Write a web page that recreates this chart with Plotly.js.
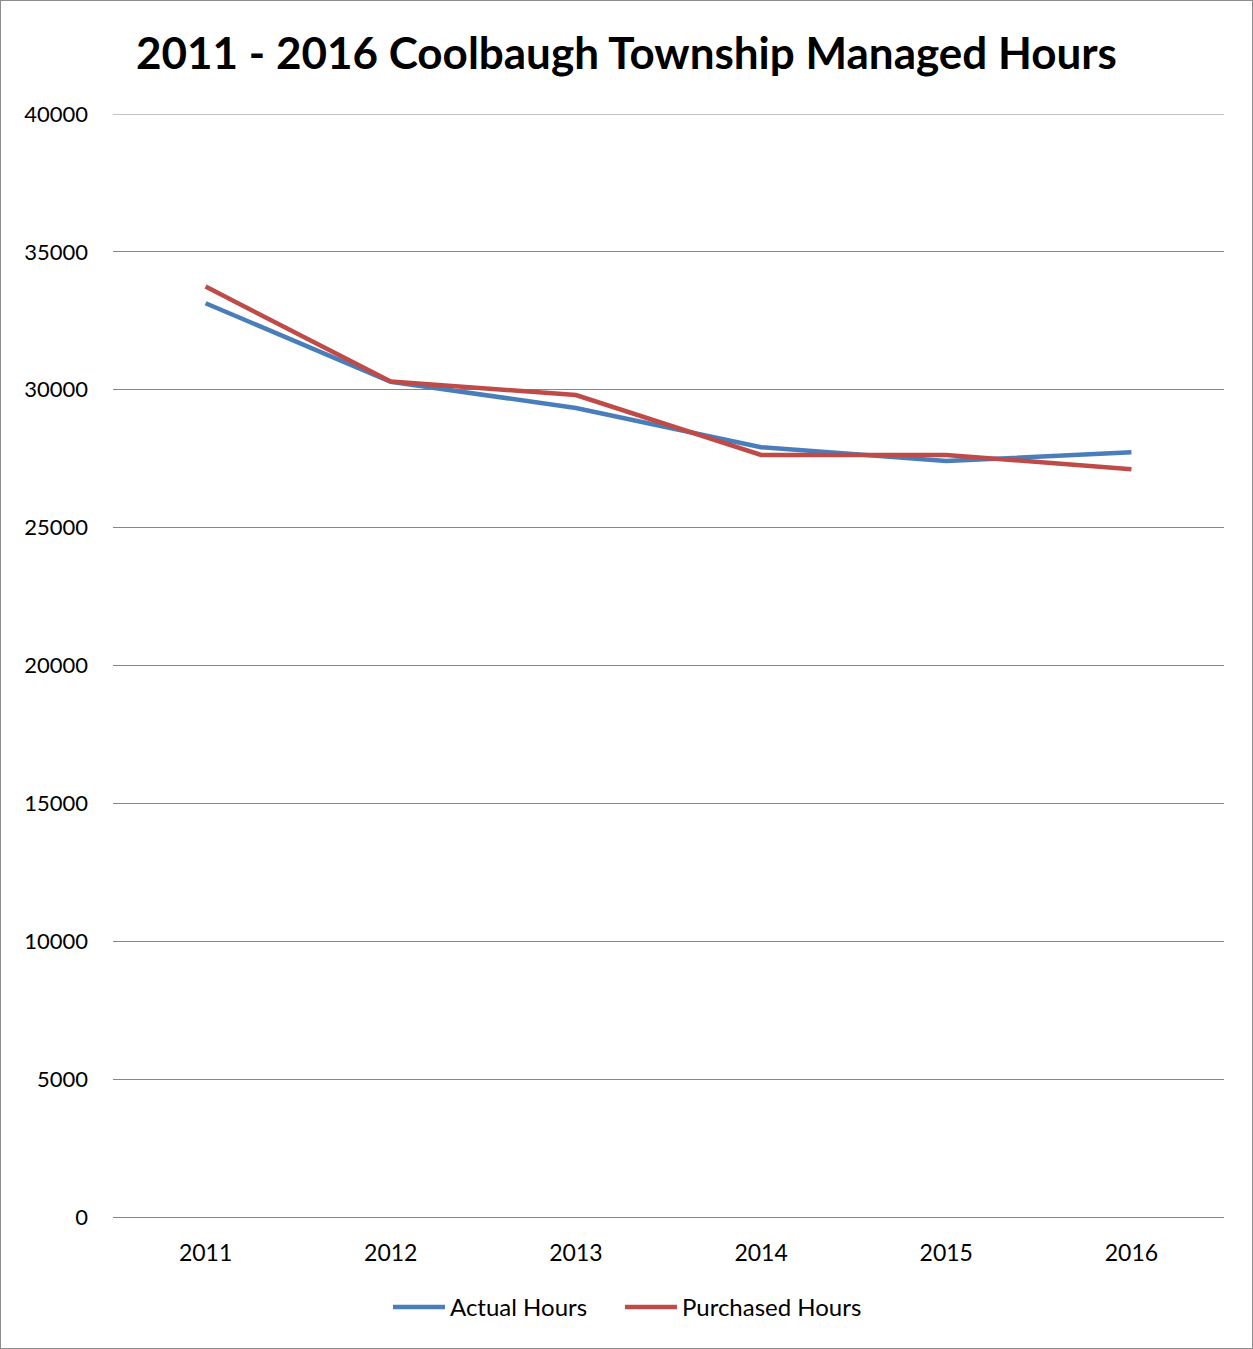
<!DOCTYPE html>
<html>
<head>
<meta charset="utf-8">
<script src="https://cdn.plot.ly/plotly-3.0.1.min.js"></script>
<style>
  html, body { margin: 0; padding: 0; background: #fff; }
  #chart { width: 1251px; height: 1347px; border: 1px solid #8c8c8c; }
</style>
</head>
<body>
<div id="chart"></div>
<script>
const years = ['2011', '2012', '2013', '2014', '2015', '2016'];
const actualHours = [33135, 30290, 29340, 27915, 27415, 27730];
const purchasedHours = [33740, 30300, 29810, 27635, 27635, 27115];
const yTicks = [0, 5000, 10000, 15000, 20000, 25000, 30000, 35000, 40000];

const font = 'Lato, "Open Sans", sans-serif';

const traces = [
  { x: years, y: actualHours, name: 'Actual Hours', type: 'scatter', mode: 'lines',
    line: { color: '#4A7EBB', width: 4.5 }, legend: 'legend' },
  { x: years, y: purchasedHours, name: 'Purchased Hours', type: 'scatter', mode: 'lines',
    line: { color: '#BE4B48', width: 4.5 }, legend: 'legend2' }
];

const legendStyle = { orientation: 'h', xanchor: 'left', y: -0.082, yanchor: 'middle',
                      font: { family: font, size: 24 }, itemwidth: 52,
                      bgcolor: 'rgba(0,0,0,0)' };

const layout = {
  width: 1251, height: 1347,
  margin: { l: 112, r: 28, t: 113, b: 131 },
  paper_bgcolor: '#ffffff', plot_bgcolor: '#ffffff',
  font: { family: font, color: '#000000', size: 20 },
  title: { text: '<b>2011 - 2016 Coolbaugh Township Managed Hours</b>',
           font: { family: font, size: 44, color: '#000' },
           x: 0.5, xanchor: 'center', y: 0.961, yanchor: 'middle' },
  xaxis: { type: 'category', range: [-0.5, 5.5], showgrid: false, zeroline: false,
           showline: false, ticks: '', ticklabelstandoff: 20,
           tickfont: { family: font, size: 23 } },
  yaxis: { range: [0, 40000], tickvals: yTicks, ticktext: yTicks.map(String),
           showgrid: true, gridcolor: '#868686', gridwidth: 1,
           zeroline: true, zerolinecolor: '#868686', zerolinewidth: 1,
           showline: false, ticks: '', ticklabelstandoff: 24,
           tickfont: { family: font, size: 22 } },
  shapes: [
    { type: 'line', xref: 'paper', yref: 'y', x0: 0, x1: 1, y0: yTicks[yTicks.length - 1], y1: yTicks[yTicks.length - 1],
      line: { color: '#868686', width: 1 }, layer: 'below' }
  ],
  showlegend: true,
  legend: Object.assign({}, legendStyle, { x: 0.2475 }),
  legend2: Object.assign({}, legendStyle, { x: 0.4563 })
};

Plotly.newPlot('chart', traces, layout, { displayModeBar: false, staticPlot: true });
</script>
</body>
</html>
